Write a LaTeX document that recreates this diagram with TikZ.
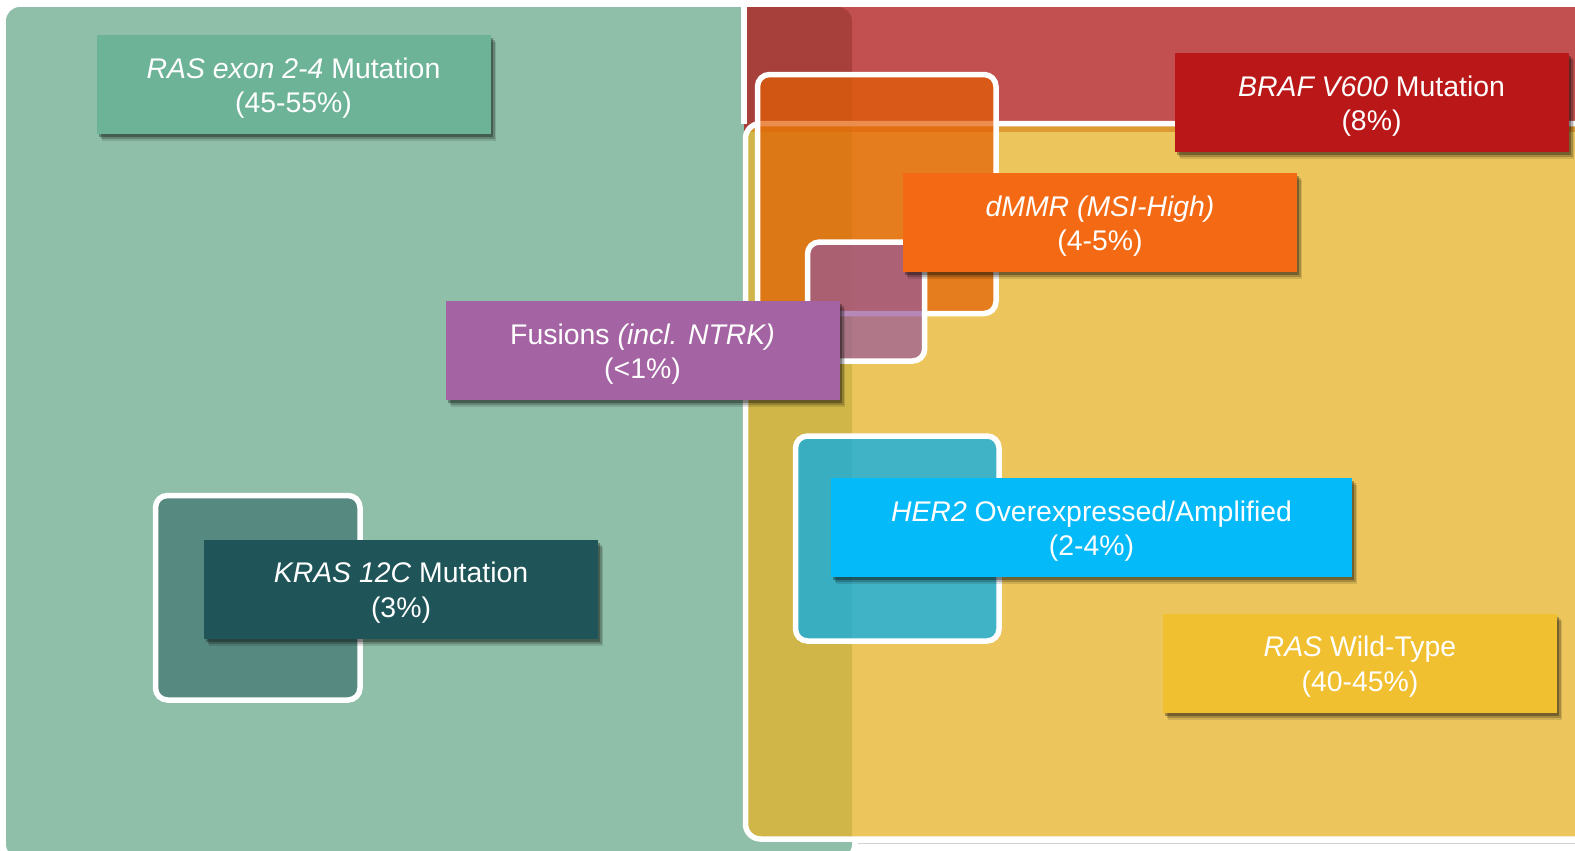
\documentclass[tikz,border=0pt]{standalone}
\usepackage{fontspec}
\setmainfont{Liberation Sans}
\usepackage{xcolor}
\definecolor{rasBack}   {HTML}{8FBFA8}
\definecolor{brafBack}  {HTML}{B01616}
\definecolor{wildBack}  {HTML}{E6B428}
\definecolor{dmmrBack}  {HTML}{E35E03}
\definecolor{fusBack}   {HTML}{96569A}
\definecolor{herBack}   {HTML}{00ACF0}
\definecolor{rasTag}    {HTML}{6DB398}
\definecolor{brafTag}   {HTML}{BA1818}
\definecolor{dmmrTag}   {HTML}{F46A14}
\definecolor{fusTag}    {HTML}{A463A2}
\definecolor{herTag}    {HTML}{05BAF8}
\definecolor{krasTag}   {HTML}{1F5559}
\definecolor{wildTag}   {HTML}{F0C030}
\usetikzlibrary{shadows}
\newcommand{\tagstrut}{\rule{0pt}{14pt}}
\tikzset{
    region/.style={draw=white, line width=2.75pt, rounded corners=7.5pt,
                   fill opacity=.75},
    subset/.style={draw=white, line width=2.75pt, rounded corners=6pt,
                   fill opacity=.7},
    tagbox/.style={rectangle, minimum width=197pt, minimum height=49.5pt,
                   inner sep=0pt, text=white, align=center,
                   font=\fontsize{14.2pt}{17.4pt}\selectfont,
                   drop shadow={shadow xshift=2.5pt, shadow yshift=-3.5pt,
                                opacity=.12, fill=black},
                   drop shadow={shadow xshift=2pt, shadow yshift=-2.5pt,
                                opacity=.2, fill=black},
                   drop shadow={shadow xshift=1.2pt, shadow yshift=-1.6pt,
                                opacity=.3, fill=black}},
}

\begin{document}
\begin{tikzpicture}[x=0.5pt, y=-0.5pt]
    \useasboundingbox (0,0) rectangle (1575,851);
    \clip (0,0) rectangle (1575,851);
    \fill[white] (0,0) rectangle (1575,851);
    \fill[rasBack, rounded corners=7pt] (6,7) rectangle (852,858);
    \fill[brafBack, fill opacity=.75] (744,7) rectangle (1600,132);
    \draw[white, line width=2.75pt] (744,0) -- (744,124);
    \draw[region, fill=wildBack] (745.5,123.5) rectangle (1600,839);
    \draw[black!18, line width=.6pt] (858,843.5) -- (1575,843.5);

    \draw[subset, fill=dmmrBack] (757.5,74.5) rectangle (996,313.5);
    \draw[subset, fill=fusBack] (807.5,242) rectangle (924.7,361);
    \draw[subset, fill=herBack, fill opacity=.72] (795.5,436) rectangle (999,641);
    \draw[subset, fill=krasTag, fill opacity=.5] (155.5,495.5) rectangle (360,700);

    \node[tagbox, fill=rasTag] (rasexon) at (293.5,84.5)
        {\tagstrut\textit{RAS exon 2-4} Mutation\\(45-55\%)};
    \node[tagbox, fill=brafTag] (braf) at (1371.5,102.5)
        {\tagstrut\textit{BRAF V600} Mutation\\(8\%)};
    \node[tagbox, fill=dmmrTag] (dmmr) at (1100,222.5)
        {\tagstrut\textit{dMMR (MSI-High)}\\(4-5\%)};
    \node[tagbox, fill=fusTag] (fusions) at (642.5,350.5)
        {\tagstrut Fusions \textit{(incl. NTRK)}\\(<1\%)};
    \node[tagbox, fill=herTag, minimum width=260.5pt] (her2) at (1091.5,527.5)
        {\tagstrut\textit{HER2} Overexpressed/Amplified\\(2-4\%)};
    \node[tagbox, fill=krasTag] (kras) at (401,589)
        {\tagstrut\textit{KRAS 12C} Mutation\\(3\%)};
    \node[tagbox, fill=wildTag] (raswt) at (1360,663)
        {\tagstrut\textit{RAS} Wild-Type\\(40-45\%)};
\end{tikzpicture}
\end{document}
